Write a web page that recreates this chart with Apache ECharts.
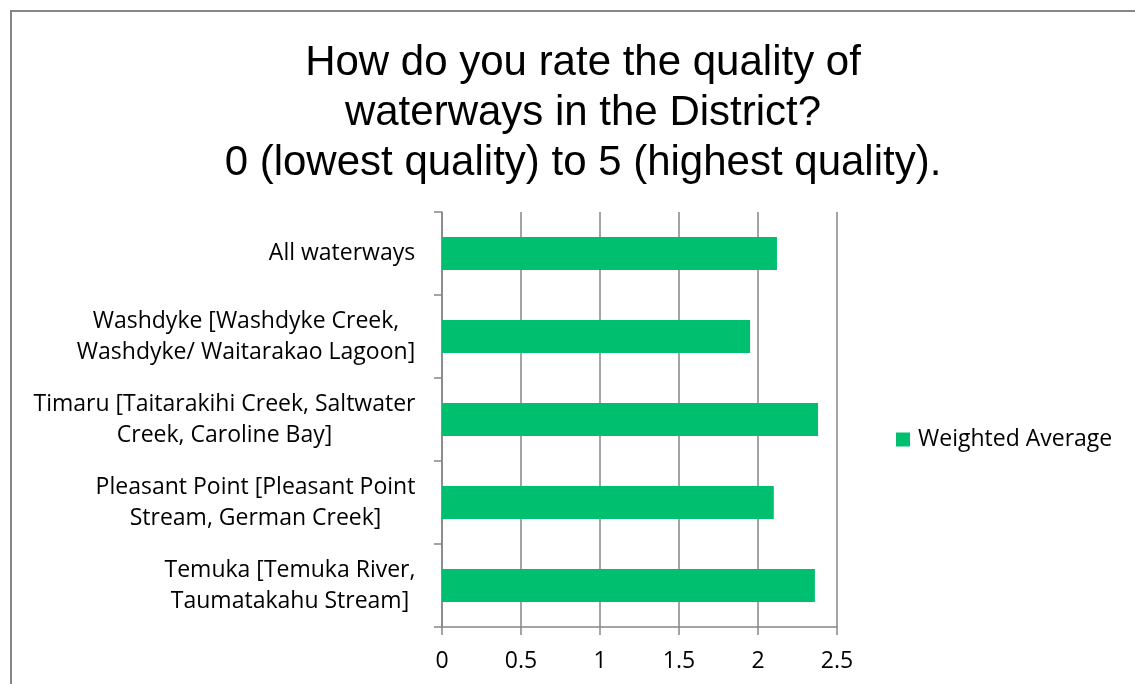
<!DOCTYPE html>
<html>
<head>
<meta charset="utf-8">
<script src="https://cdn.jsdelivr.net/npm/echarts@6/dist/echarts.min.js"></script>
<style>html,body{margin:0;padding:0;background:#fff;}#c{width:1135px;height:684px;}</style>
</head>
<body>
<div id="c"></div>
<script>
var titleText = 'How do you rate the quality of\nwaterways in the District?\n0 (lowest quality) to 5 (highest quality).';
var categories = [
  'All waterways',
  'Washdyke [Washdyke Creek,\nWashdyke/ Waitarakao Lagoon]',
  'Timaru [Taitarakihi Creek, Saltwater\nCreek, Caroline Bay]',
  'Pleasant Point [Pleasant Point\nStream, German Creek]',
  'Temuka [Temuka River,\nTaumatakahu Stream]'
];
var seriesName = 'Weighted Average';
var values = [2.12, 1.95, 2.38, 2.10, 2.36];
var xTicks = [0, 0.5, 1, 1.5, 2, 2.5];

var gray = '#868686';
var labelFont = 'Open Sans';
var labelSize = 23;

// measure label lines so each multi-line label is centred within its own block
var cv = document.createElement('canvas').getContext('2d');
cv.font = labelSize + 'px "' + labelFont + '"';
var rich = {};
categories.forEach(function (c, i) {
  var w = 0;
  c.split('\n').forEach(function (l) { w = Math.max(w, cv.measureText(l).width); });
  rich['r' + i] = {width: Math.ceil(w) + 1, align: 'center', fontFamily: labelFont,
    fontSize: labelSize, lineHeight: 31, color: '#000'};
});

var chart = echarts.init(document.getElementById('c'), null, {renderer: 'canvas'});
chart.setOption({
  animation: false,
  backgroundColor: '#ffffff',
  graphic: [{
    type: 'rect', shape: {x: 11, y: 11, width: 1200, height: 700},
    style: {fill: 'none', stroke: gray, lineWidth: 2}, silent: true, z: -1
  }],
  title: {
    text: titleText, left: 578, top: 33, textAlign: 'center',
    textStyle: {fontFamily: 'Liberation Sans', fontSize: 42, fontWeight: 'normal', color: '#000', lineHeight: 50}
  },
  legend: {
    data: [seriesName], left: 891, top: 423, orient: 'vertical',
    itemWidth: 14, itemHeight: 14, itemGap: 10, icon: 'rect',
    textStyle: {fontFamily: labelFont, fontSize: 23, color: '#000', padding: [0, 0, 0, 3]}
  },
  grid: {left: 442, right: 298, top: 212, bottom: 57, containLabel: false},
  xAxis: {
    type: 'value', min: xTicks[0], max: xTicks[xTicks.length - 1], interval: 0.5,
    axisLine: {show: true, lineStyle: {color: gray, width: 1.5}},
    axisTick: {show: true, length: 8, lineStyle: {color: gray, width: 1.5}},
    splitLine: {show: true, lineStyle: {color: gray, width: 1.5}},
    axisLabel: {fontFamily: labelFont, fontSize: labelSize, color: '#000', margin: 23,
      formatter: function (v) { return String(v); }}
  },
  yAxis: {
    type: 'category', data: categories, inverse: true,
    axisLine: {show: true, lineStyle: {color: gray, width: 1.5}},
    axisTick: {show: true, length: 8, lineStyle: {color: gray, width: 1.5}},
    axisLabel: {fontFamily: labelFont, fontSize: labelSize, color: '#000', margin: 26,
      align: 'right', lineHeight: 31,
      formatter: function (v) {
        var i = categories.indexOf(v);
        return v.split('\n').map(function (l) { return '{r' + i + '|' + l + '}'; }).join('\n');
      },
      rich: rich
    }
  },
  series: [{
    name: seriesName, type: 'bar', data: values, barCategoryGap: '60%',
    itemStyle: {color: '#00BF6F'}
  }]
});
</script>
</body>
</html>
